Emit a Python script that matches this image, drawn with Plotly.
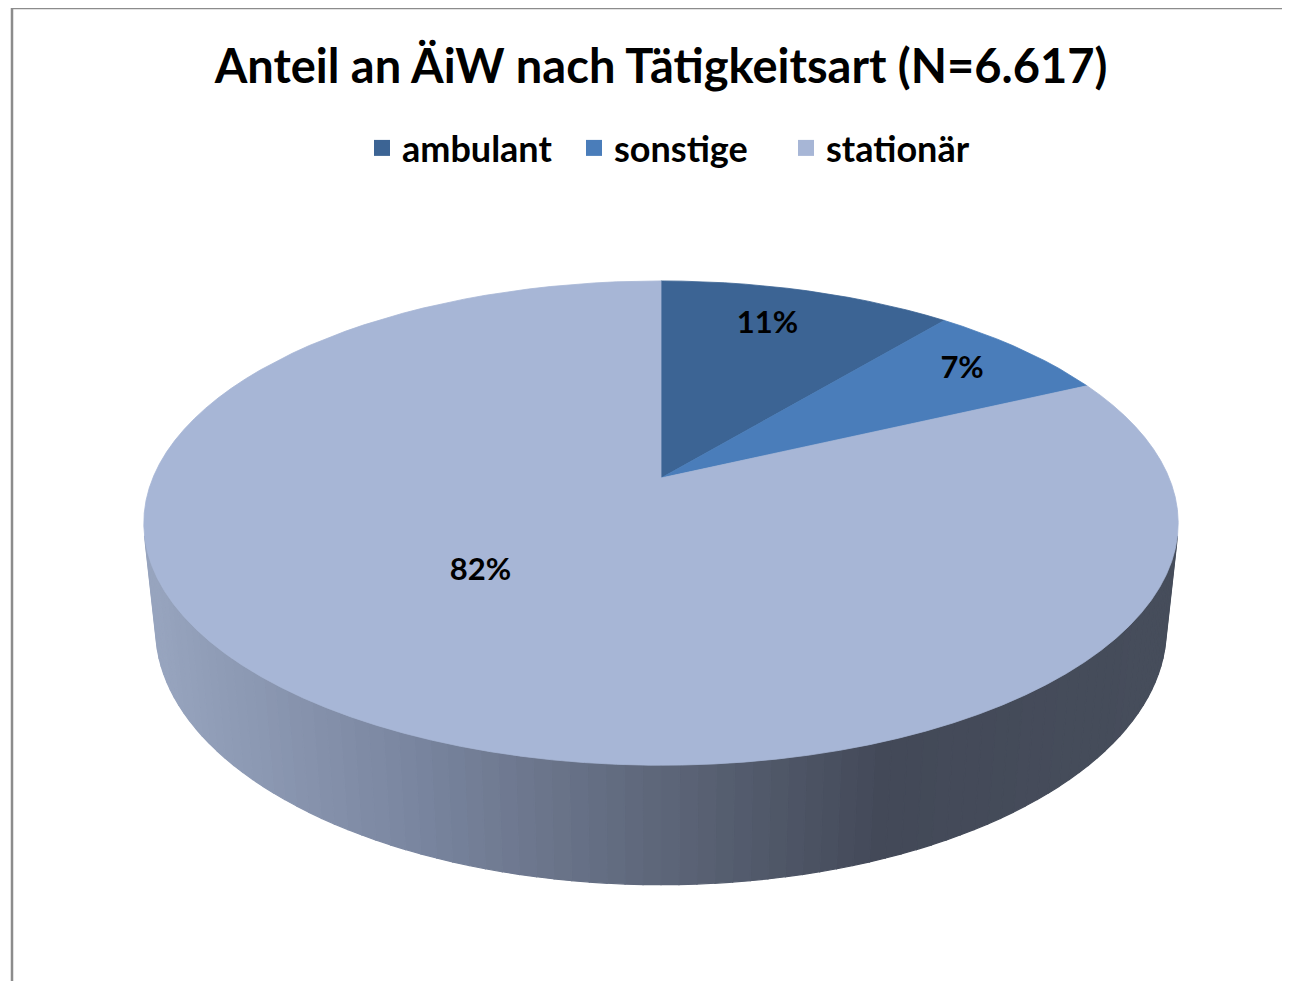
import math
import plotly.graph_objects as go

# data
categories = ["ambulant", "sonstige", "stationär"]
shares = [11, 7, 82]          # percent
n_total = "6.617"
title_text = "Anteil an ÄiW nach Tätigkeitsart (N=" + n_total + ")"

colors = ["#3C6494", "#4A7DBA", "#A7B6D6"]
side_stops = [(0.0, "#97A4BE"), (0.25, "#7A86A0"), (0.5, "#5D6679"),
              (0.72, "#434958"), (1.0, "#464D5B")]

W, H = 1290, 981
OFF = 8  # page body margin in the browser
FONT = "Lato"

# camera for the 3d look (screen pixels)
cx, cy = 661, 478
F = 2424.0
D = 4.77
sa = 0.46
ca = math.sqrt(1 - sa * sa)
T = 0.236  # thickness of the disc


def proj(u, v, h=0.0):
    ry = v + D * ca
    rz = h - D * sa
    yc = ry * sa + rz * ca
    zc = ry * ca - rz * sa
    return cx + F * u / zc, cy - F * yc / zc


def arc(a0, a1, r=1.0, h=0.0, steps=120):
    # angles in degrees, clockwise from 12 o'clock
    xs, ys = [], []
    n = max(2, int(abs(a1 - a0) / 360 * steps) + 2)
    for i in range(n):
        a = math.radians(a0 + (a1 - a0) * i / (n - 1))
        x, y = proj(r * math.sin(a), r * math.cos(a), h)
        xs.append(x)
        ys.append(y)
    return xs, ys


def hex2rgb(c):
    return [int(c[i:i + 2], 16) for i in (1, 3, 5)]


def side_color(t):
    for (t0, c0), (t1, c1) in zip(side_stops[:-1], side_stops[1:]):
        if t <= t1:
            f = (t - t0) / (t1 - t0)
            a, b = hex2rgb(c0), hex2rgb(c1)
            return "rgb(%d,%d,%d)" % tuple(round(a[k] + (b[k] - a[k]) * f) for k in range(3))
    return side_stops[-1][1]


fig = go.Figure()

# side of the disc (visible front part), drawn as thin strips for the gradient
d_ground = D * ca
v_t = -1 / d_ground
a_tan = math.degrees(math.atan2(math.sqrt(1 - v_t ** 2), v_t))  # right tangent angle
a_start, a_end = a_tan, 360 - a_tan
x_left = proj(-1, 0)[0]
x_right = proj(1, 0)[0]
n_strips = 90
for i in range(n_strips):
    a0 = a_start + (a_end - a_start) * i / n_strips
    a1 = a_start + (a_end - a_start) * (i + 1) / n_strips
    tx, ty = arc(a0, a1, steps=720)
    bx, by = arc(a1, a0, h=-T, steps=720)
    xm = (tx[0] + tx[-1]) / 2
    col = side_color(min(1, max(0, (xm - x_left) / (x_right - x_left))))
    fig.add_trace(go.Scatter(x=tx + bx + [tx[0]], y=ty + by + [ty[0]],
                             mode="lines", fill="toself", fillcolor=col,
                             line=dict(color=col, width=1.2),
                             hoverinfo="skip", showlegend=False))

# top face slices
start = 0.0
mids = []
for cat, s, col in zip(categories, shares, colors):
    end = start + s / sum(shares) * 360
    xs, ys = arc(start, end)
    ax, ay = proj(0, 0)
    fig.add_trace(go.Scatter(x=[ax] + xs + [ax], y=[ay] + ys + [ay],
                             mode="lines", fill="toself", fillcolor=col,
                             line=dict(color=col, width=0.8),
                             hoverinfo="skip", showlegend=False))
    mids.append((start + end) / 2)
    start = end

# data labels
label_r = [0.78, 0.82, 0.5]
label_da = [-2, 0, 9]
lx, ly = [], []
for m, r, da in zip(mids, label_r, label_da):
    a = math.radians(m + da)
    x, y = proj(r * math.sin(a), r * math.cos(a))
    lx.append(x)
    ly.append(y)
fig.add_trace(go.Scatter(x=lx, y=ly, mode="text",
                         text=["%d%%" % s for s in shares],
                         textfont=dict(family=FONT, size=31, color="#000000", weight="bold"),
                         textposition="middle center",
                         hoverinfo="skip", showlegend=False))

# legend entries
for cat, col in zip(categories, colors):
    fig.add_trace(go.Scatter(x=[None], y=[None], mode="markers", name=cat,
                             marker=dict(symbol="square", size=17, color=col)))

fig.add_shape(type="rect", xref="x", yref="y", x0=12, y0=8, x1=W + 30, y1=H + 30,
              line=dict(color="#8C8C8C", width=2.5), fillcolor="rgba(0,0,0,0)",
              layer="above")

fig.update_layout(
    width=W, height=H,
    margin=dict(l=0, r=0, t=0, b=0),
    paper_bgcolor="white", plot_bgcolor="white",
    title=dict(text=title_text, x=(661 - OFF) / W, xanchor="center",
               y=1 - (67 - OFF) / H, yanchor="middle",
               font=dict(family=FONT, size=47, color="#000000", weight="bold")),
    legend=dict(orientation="h", x=(680 - OFF) / W, xanchor="center", y=1 - (148 - OFF) / H,
                yanchor="middle", entrywidth=167, entrywidthmode="pixels",
                font=dict(family=FONT, size=36, color="#000000", weight="bold"),
                itemclick=False, itemdoubleclick=False),
    xaxis=dict(range=[OFF, W + OFF], visible=False, fixedrange=True),
    yaxis=dict(range=[H + OFF, OFF], visible=False, fixedrange=True),
)

fig.write_html("out.html")
